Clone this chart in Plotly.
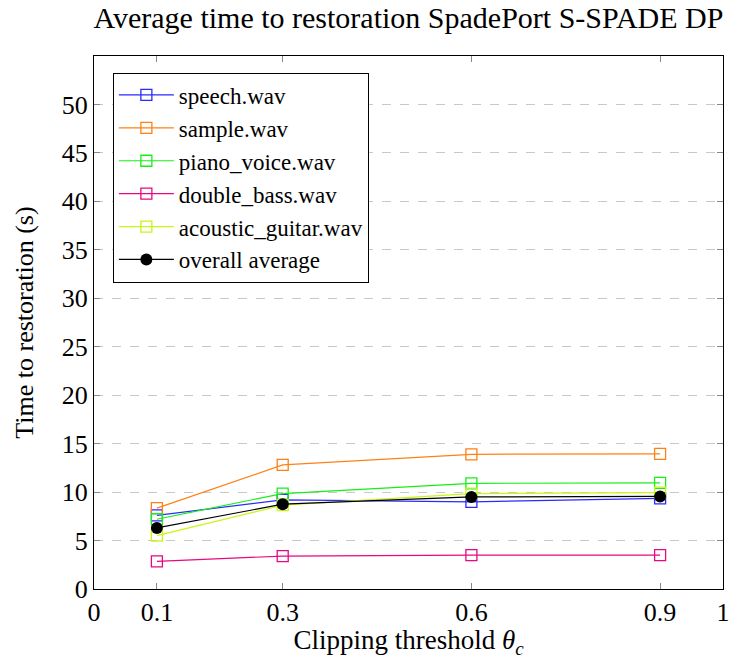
import plotly.graph_objects as go

thresholds = [0.1, 0.3, 0.6, 0.9]
speech = [7.6, 9.2, 9.0, 9.35]
sample = [8.35, 12.8, 13.9, 13.95]
piano_voice = [7.2, 9.85, 10.9, 10.95]
double_bass = [2.85, 3.4, 3.5, 3.5]
acoustic_guitar = [5.5, 8.65, 9.85, 9.95]
overall = [6.3, 8.75, 9.5, 9.55]

series = [
    ("speech.wav", speech, "#2a2aff"),
    ("sample.wav", sample, "#ff8015"),
    ("piano_voice.wav", piano_voice, "#14f014"),
    ("double_bass.wav", double_bass, "#e8087f"),
    ("acoustic_guitar.wav", acoustic_guitar, "#c8f514"),
]

FONT = "Liberation Serif"
fig = go.Figure()
for name, vals, col in series:
    fig.add_trace(go.Scatter(
        x=thresholds, y=vals, name=name, mode="lines+markers",
        line=dict(color=col, width=1.2),
        marker=dict(symbol="square-open", size=11, color=col, line=dict(width=1.3, color=col)),
    ))
fig.add_trace(go.Scatter(
    x=thresholds, y=overall, name="overall average", mode="lines+markers",
    line=dict(color="black", width=1.2),
    marker=dict(symbol="circle", size=12, color="black"),
))

fig.update_layout(
    width=736, height=659,
    margin=dict(l=94, r=6, t=56, b=70),
    paper_bgcolor="white", plot_bgcolor="white",
    font=dict(family=FONT, color="black", size=26),
    title=dict(text="Average time to restoration SpadePort S-SPADE DP",
               x=0.5, xref="paper", xanchor="center", y=0.99, yanchor="top",
               font=dict(size=30, family=FONT)),
    legend=dict(x=0.03, y=0.969, xanchor="left", yanchor="top",
                bgcolor="white", bordercolor="black", borderwidth=1,
                itemwidth=55,
                font=dict(size=23, family=FONT)),
    showlegend=True,
)
fig.update_xaxes(
    range=[0, 1], tickvals=[0, 0.1, 0.3, 0.6, 0.9, 1],
    ticktext=["0", "0.1", "0.3", "0.6", "0.9", "1"],
    ticklabeloverflow="allow",
    showgrid=False, zeroline=False,
    showline=True, linecolor="black", linewidth=1, mirror="ticks",
    ticks="inside", ticklen=6, tickcolor="#888888",
    tickfont=dict(size=26, family=FONT),
    title=dict(text="Clipping threshold <i>θ<sub>c</sub></i>", font=dict(size=27, family=FONT), standoff=4),
)
fig.update_yaxes(
    range=[0, 55], tickvals=list(range(0, 55, 5)),
    showgrid=True, gridcolor="#c8c8c8", griddash="dash", gridwidth=1,
    zeroline=False,
    showline=True, linecolor="black", linewidth=1, mirror="ticks",
    ticks="inside", ticklen=6, tickcolor="#888888",
    tickfont=dict(size=26, family=FONT),
    title=dict(text="Time to restoration (s)", font=dict(size=26, family=FONT), standoff=20),
)

fig.write_html("out.html")
